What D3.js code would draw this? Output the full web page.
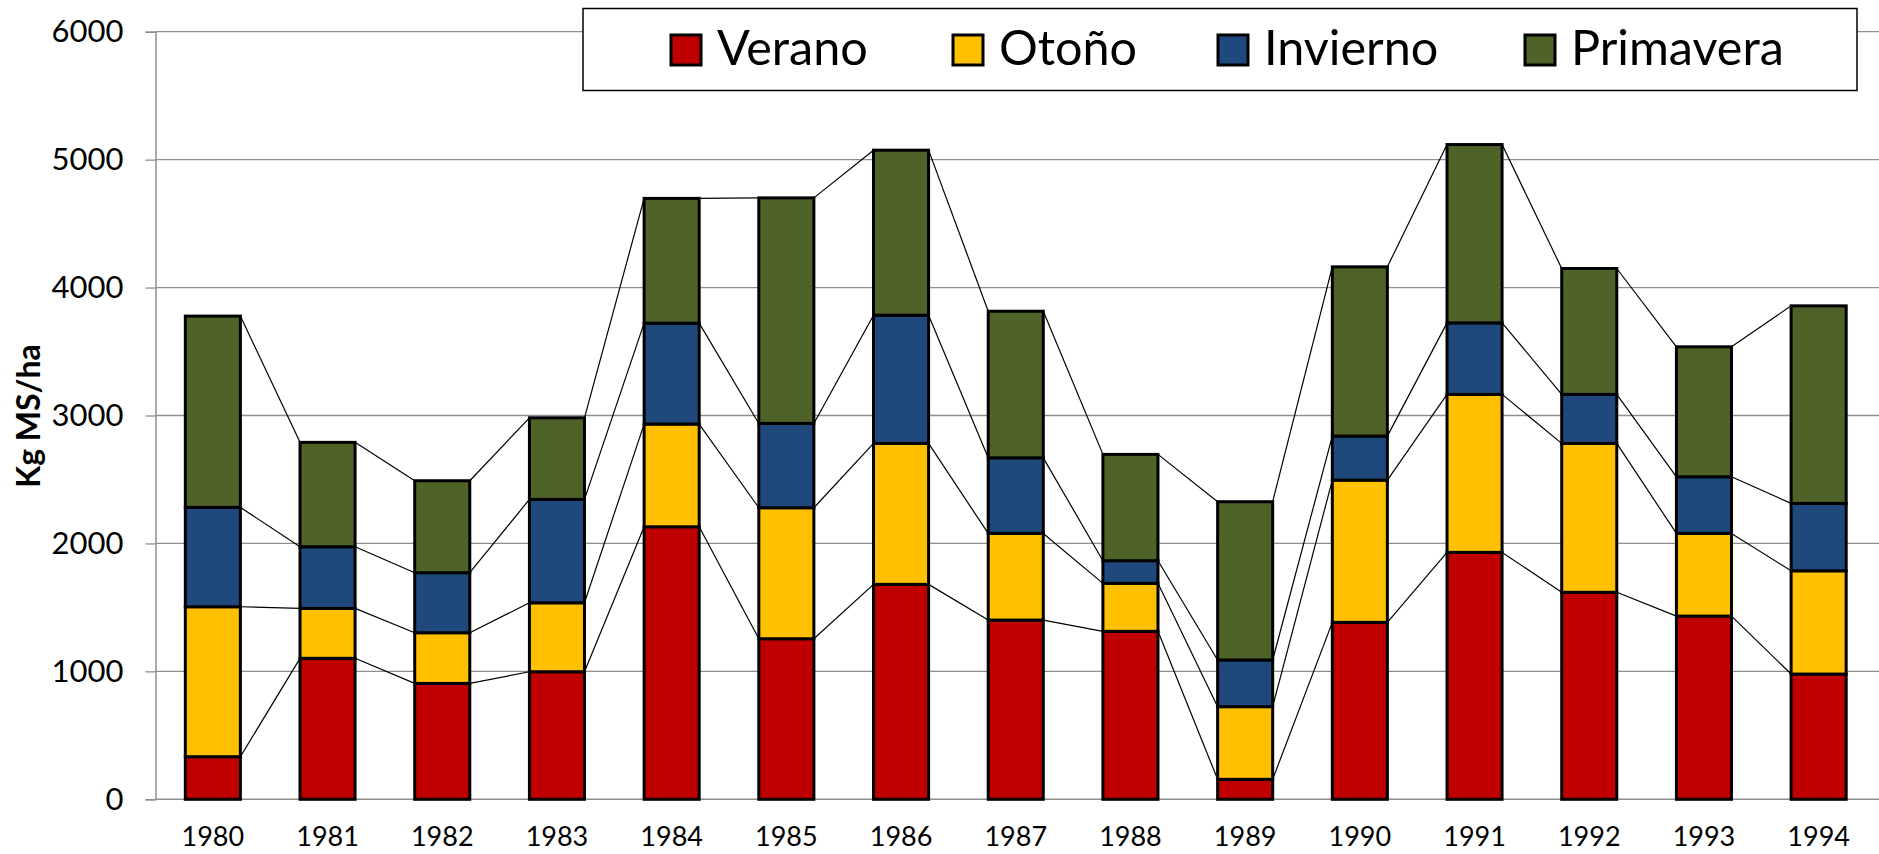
<!DOCTYPE html>
<html>
<head>
<meta charset="utf-8">
<script src="https://cdn.jsdelivr.net/npm/d3@7"></script>
<style>
  html, body { margin: 0; padding: 0; background: #fff; }
  svg { display: block; font-family: Lato, "Open Sans", sans-serif; }
</style>
</head>
<body>
<div id="chart"></div>
<script>
// --- data ---
const years = ["1980","1981","1982","1983","1984","1985","1986","1987","1988","1989","1990","1991","1992","1993","1994"];
const verano    = [333, 1102, 906, 997, 2130, 1255, 1680, 1401, 1313, 156, 1383, 1930, 1618, 1432, 979];
const otono     = [1172, 390, 396, 539, 803, 1024, 1102, 677, 375, 568, 1112, 1235, 1164, 646, 807];
const invierno  = [777, 482, 469, 808, 789, 659, 1002, 591, 177, 365, 344, 559, 383, 443, 527];
const primavera = [1495, 816, 719, 638, 975, 1763, 1290, 1146, 831, 1237, 1323, 1394, 984, 1016, 1544];
const seriesNames = ["Verano", "Otoño", "Invierno", "Primavera"];
const yTicks = [0, 1000, 2000, 3000, 4000, 5000, 6000];
const yTitle = "Kg MS/ha";

const colors = ["#C00000", "#FFC000", "#1F497D", "#4F6228"];

const W = 1879, H = 854;
const plot = { left: 155.5, right: 1876, top: 31.7, bottom: 799.3 };

const rows = years.map((y, i) => ({ year: y, Verano: verano[i], "Otoño": otono[i], Invierno: invierno[i], Primavera: primavera[i] }));
const stacked = d3.stack().keys(seriesNames)(rows);

const x = d3.scaleBand().domain(years).range([plot.left, plot.right]).paddingInner(0.52).paddingOuter(0.26);
const y = d3.scaleLinear().domain([0, 6000]).range([plot.bottom, plot.top]);

const svg = d3.select("#chart").append("svg").attr("width", W).attr("height", H);

// gridlines
svg.append("g").selectAll("line").data(yTicks.filter(t => t > 0)).join("line")
    .attr("x1", plot.left).attr("x2", W).attr("y1", d => y(d)).attr("y2", d => y(d))
    .attr("stroke", "#8E8E8E").attr("stroke-width", 1.3);

// y axis
const yAxis = svg.append("g").attr("transform", `translate(${plot.left},0)`)
    .call(d3.axisLeft(y).tickValues(yTicks).tickSize(10).tickPadding(22).tickFormat(d3.format("d")));
yAxis.select(".domain").attr("stroke", "#8E8E8E").attr("stroke-width", 1.5);
yAxis.selectAll(".tick line").attr("stroke", "#8E8E8E").attr("stroke-width", 1.3);
yAxis.selectAll(".tick text").attr("font-size", 31).attr("fill", "#000").attr("font-family", "Lato, sans-serif");

// x axis
const xAxis = svg.append("g").attr("transform", `translate(0,${plot.bottom})`)
    .call(d3.axisBottom(x).tickSize(0).tickPadding(28));
xAxis.select(".domain").attr("stroke", "#8E8E8E").attr("stroke-width", 1.5).attr("d", `M${plot.left},0H${W}`);
xAxis.selectAll(".tick text").attr("font-size", 27).attr("fill", "#000").attr("font-family", "Lato, sans-serif");

// y title
svg.append("text").attr("transform", `translate(40,416) rotate(-90)`)
    .attr("text-anchor", "middle").attr("font-size", 32).attr("font-weight", "bold").text(yTitle);

// series lines between bars
const bw = x.bandwidth();
stacked.forEach(s => {
  for (let i = 0; i < s.length - 1; i++) {
    svg.append("line")
      .attr("x1", x(years[i]) + bw).attr("y1", y(s[i][1]))
      .attr("x2", x(years[i + 1])).attr("y2", y(s[i + 1][1]))
      .attr("stroke", "#000").attr("stroke-width", 1.2);
  }
});

// bars
svg.append("g").selectAll("g").data(stacked).join("g")
    .attr("fill", (d, i) => colors[i])
  .selectAll("rect").data(d => d).join("rect")
    .attr("x", d => x(d.data.year)).attr("width", bw)
    .attr("y", d => y(d[1])).attr("height", d => y(d[0]) - y(d[1]))
    .attr("stroke", "#000").attr("stroke-width", 3);

// legend
const legend = svg.append("g");
legend.append("rect").attr("x", 583).attr("y", 8.5).attr("width", 1274).attr("height", 82)
    .attr("fill", "#fff").attr("stroke", "#000").attr("stroke-width", 1.5);
const legX = [671, 953, 1218, 1525];
seriesNames.forEach((n, i) => {
  legend.append("rect").attr("x", legX[i]).attr("y", 35).attr("width", 30).attr("height", 30)
    .attr("fill", colors[i]).attr("stroke", "#000").attr("stroke-width", 3);
  legend.append("text").attr("x", legX[i] + 46).attr("y", 65).attr("font-size", 48.5).text(n);
});
</script>
</body>
</html>
